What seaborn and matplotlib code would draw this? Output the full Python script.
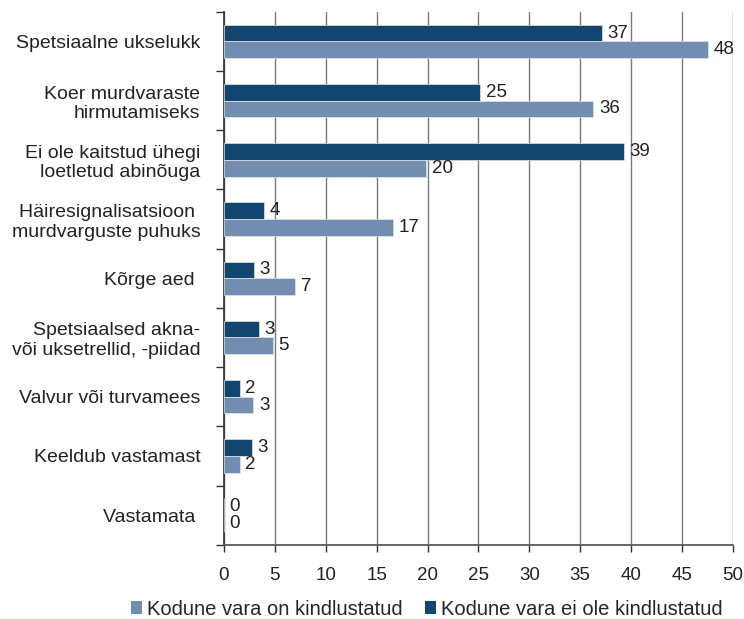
import pandas as pd
import matplotlib
matplotlib.use("Agg")
import matplotlib.pyplot as plt
import seaborn as sns
from matplotlib.patches import Patch
from matplotlib.ticker import FixedLocator

# Data
categories = [
    "Spetsiaalne ukselukk",
    "Koer murdvaraste\nhirmutamiseks",
    "Ei ole kaitstud ühegi\nloetletud abinõuga",
    "Häiresignalisatsioon \nmurdvarguste puhuks",
    "Kõrge aed ",
    "Spetsiaalsed akna-\nvõi uksetrellid, -piidad",
    "Valvur või turvamees",
    "Keeldub vastamast",
    "Vastamata ",
]
insured = [47.6, 36.3, 19.9, 16.6, 7.0, 4.8, 2.9, 1.54, 0.0]
not_insured = [37.1, 25.2, 39.3, 3.9, 2.95, 3.4, 1.57, 2.75, 0.0]
series_names = ["Kodune vara on kindlustatud", "Kodune vara ei ole kindlustatud"]
colors = {series_names[0]: "#728db0", series_names[1]: "#12466e"}

df = pd.concat([
    pd.DataFrame({"cat": categories, "value": not_insured, "series": series_names[1]}),
    pd.DataFrame({"cat": categories, "value": insured, "series": series_names[0]}),
])

sns.set_theme(style="white")
plt.rcParams["font.family"] = ["Liberation Sans", "DejaVu Sans"]

fig = plt.figure(figsize=(7.44, 6.19), dpi=100)
ax = fig.add_axes([0.301, 0.12, 0.684, 0.861])

sns.barplot(data=df, y="cat", x="value", hue="series", order=categories,
            hue_order=[series_names[1], series_names[0]], palette=colors,
            saturation=1, width=0.565, orient="h", errorbar=None, legend=False,
            edgecolor="#dfe6ee", linewidth=0.5, ax=ax, zorder=3)

# value labels
for cont in ax.containers:
    ax.bar_label(cont, fmt="%.0f", padding=4, fontsize=13.5, color="#222222")

ax.set_xlim(0, 50)
ax.set_ylim(len(categories) - 0.5, -0.5)
ax.set_xticks(range(0, 51, 5))
ax.xaxis.grid(True, color="#7a7a7a", linewidth=1.0, zorder=0)
ax.set_axisbelow(True)

# y ticks at category boundaries, labels at centres
ax.yaxis.set_major_locator(FixedLocator(range(len(categories))))
ax.set_yticklabels(categories)
ax.yaxis.set_minor_locator(FixedLocator([i - 0.5 for i in range(len(categories) + 1)]))
ax.tick_params(axis="y", which="major", length=0, pad=17, labelsize=14, labelcolor="#222222")
ax.tick_params(axis="y", which="minor", length=6, width=1, color="#333333", left=True)
ax.tick_params(axis="x", which="major", length=5, width=1, color="#333333", bottom=True,
               pad=11, labelsize=13.5, labelcolor="#222222")

for s in ["top", "right"]:
    ax.spines[s].set_visible(False)
ax.spines["left"].set_color("#333333")
ax.spines["bottom"].set_color("#555555")
ax.set_xlabel("")
ax.set_ylabel("")

handles = [Patch(facecolor=colors[n], edgecolor="none") for n in series_names]
fig.legend(handles, series_names, loc="center", bbox_to_anchor=(0.574, 0.016), ncol=2,
           frameon=False, fontsize=14.5, handlelength=0.55, handleheight=0.55,
           handletextpad=0.25, columnspacing=1.1, borderpad=0.1)

fig.savefig("out.png", dpi=100)
